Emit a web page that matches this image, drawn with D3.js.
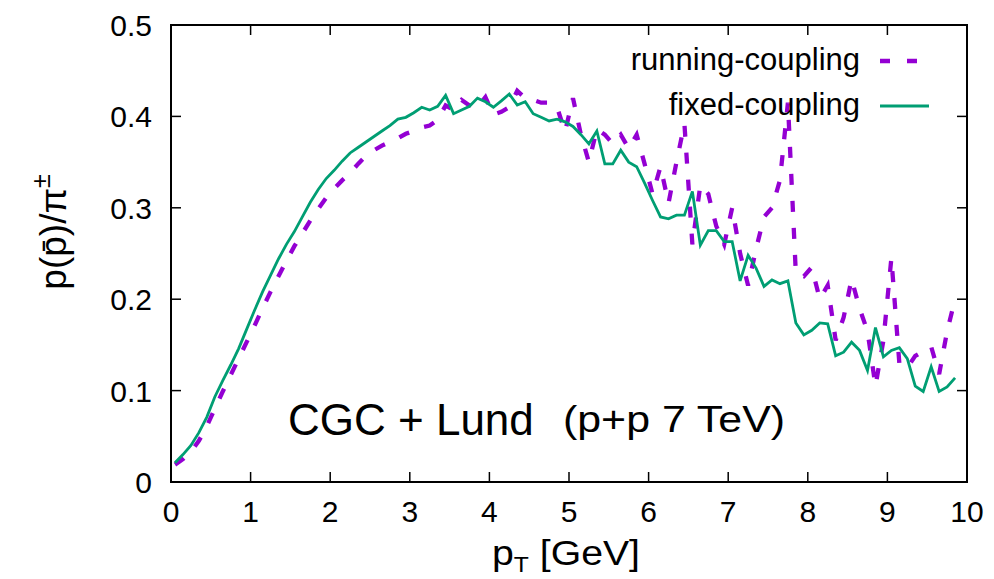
<!DOCTYPE html>
<html>
<head>
<meta charset="utf-8">
<script src="https://cdn.jsdelivr.net/npm/d3@7"></script>
<style>
  html, body { margin: 0; padding: 0; background: #fff; }
  svg text { font-family: "Liberation Sans", Arial, Helvetica, sans-serif; fill: #000; }
</style>
</head>
<body>
<svg id="chart" width="994" height="579"></svg>
<script>
// transverse momentum grid [GeV]
const pT = [0.05,0.15,0.25,0.35,0.45,0.55,0.65,0.75,0.85,0.95,
  1.05,1.15,1.25,1.35,1.45,1.55,1.65,1.75,1.85,1.95,
  2.05,2.15,2.25,2.35,2.45,2.55,2.65,2.75,2.85,2.95,
  3.05,3.15,3.25,3.35,3.45,3.55,3.65,3.75,3.85,3.95,
  4.05,4.15,4.25,4.35,4.45,4.55,4.65,4.75,4.85,4.95,
  5.05,5.15,5.25,5.35,5.45,5.55,5.65,5.75,5.85,5.95,
  6.05,6.15,6.25,6.35,6.45,6.55,6.65,6.75,6.85,6.95,
  7.05,7.15,7.25,7.35,7.45,7.55,7.65,7.75,7.85,7.95,
  8.05,8.15,8.25,8.35,8.45,8.55,8.65,8.75,8.85,8.95,
  9.05,9.15,9.25,9.35,9.45,9.55,9.65,9.75,9.85];

// p(pbar)/pi ratio, running coupling
const runningCoupling = [0.019,0.025,0.033,0.045,0.061,0.080,0.099,0.117,0.135,0.153,
  0.171,0.190,0.208,0.225,0.242,0.258,0.272,0.286,0.299,0.311,
  0.321,0.330,0.338,0.348,0.357,0.363,0.368,0.372,0.376,0.381,
  0.384,0.388,0.390,0.396,0.412,0.407,0.418,0.412,0.410,0.421,
  0.402,0.405,0.410,0.428,0.420,0.418,0.415,0.415,0.410,0.383,
  0.420,0.380,0.350,0.386,0.380,0.370,0.380,0.365,0.380,0.348,
  0.315,0.345,0.305,0.350,0.392,0.260,0.325,0.315,0.280,0.260,
  0.300,0.250,0.215,0.255,0.290,0.300,0.330,0.415,0.228,0.225,
  0.235,0.200,0.215,0.155,0.180,0.222,0.190,0.165,0.105,0.155,
  0.245,0.130,0.125,0.138,0.143,0.148,0.118,0.165,0.200];

// p(pbar)/pi ratio, fixed coupling
const fixedCoupling = [0.021,0.030,0.040,0.054,0.071,0.093,0.111,0.128,0.146,0.167,
  0.188,0.208,0.226,0.244,0.260,0.274,0.290,0.306,0.320,0.332,
  0.341,0.351,0.360,0.366,0.372,0.378,0.384,0.390,0.397,0.399,
  0.404,0.410,0.407,0.411,0.423,0.403,0.407,0.411,0.420,0.416,
  0.410,0.417,0.4245,0.4125,0.416,0.403,0.399,0.395,0.397,0.394,
  0.389,0.380,0.370,0.384,0.348,0.348,0.363,0.350,0.345,0.327,
  0.308,0.290,0.288,0.292,0.292,0.318,0.259,0.275,0.275,0.263,
  0.263,0.220,0.248,0.234,0.214,0.221,0.217,0.220,0.174,0.161,
  0.166,0.174,0.173,0.138,0.142,0.153,0.144,0.122,0.169,0.137,
  0.144,0.147,0.135,0.105,0.099,0.126,0.099,0.104,0.114];

const xTicks = [0,1,2,3,4,5,6,7,8,9,10];
const yTicks = [0,0.1,0.2,0.3,0.4,0.5];
const seriesNames = ["running-coupling", "fixed-coupling"];

const svg = d3.select("#chart");
const plotLeft = 171, plotRight = 967, plotTop = 25, plotBottom = 482;

const x = d3.scaleLinear().domain([0, 10]).range([plotLeft, plotRight]);
const y = d3.scaleLinear().domain([0, 0.5]).range([plotBottom, plotTop]);

const tickLen = 10;
const fontSize = 30;

// tick marks on all four sides, pointing inward
const axisG = svg.append("g").attr("stroke", "#000").attr("stroke-width", 1.5);
xTicks.forEach(t => {
  axisG.append("line").attr("x1", x(t)).attr("x2", x(t)).attr("y1", plotBottom).attr("y2", plotBottom - tickLen);
  axisG.append("line").attr("x1", x(t)).attr("x2", x(t)).attr("y1", plotTop).attr("y2", plotTop + tickLen);
});
yTicks.forEach(t => {
  axisG.append("line").attr("x1", plotLeft).attr("x2", plotLeft + tickLen).attr("y1", y(t)).attr("y2", y(t));
  axisG.append("line").attr("x1", plotRight).attr("x2", plotRight - tickLen).attr("y1", y(t)).attr("y2", y(t));
});

// tick labels
svg.append("g").selectAll("text").data(xTicks).join("text")
  .attr("x", d => x(d)).attr("y", plotBottom + 40)
  .attr("text-anchor", "middle").attr("font-size", fontSize)
  .text(d => d3.format("d")(d));
svg.append("g").selectAll("text").data(yTicks).join("text")
  .attr("x", plotLeft - 19).attr("y", d => y(d) + 11)
  .attr("text-anchor", "end").attr("font-size", fontSize)
  .text(d => d === 0 ? "0" : d3.format(".1f")(d));

// curves
const line = d3.line().x(d => x(d[0])).y(d => y(d[1]));
const runPts = pT.map((p, i) => [p, runningCoupling[i]]);
const fixPts = pT.map((p, i) => [p, fixedCoupling[i]]);

const purple = "#9400d3", green = "#009e73";

svg.append("path").datum(runPts).attr("d", line)
  .attr("fill", "none").attr("stroke", purple).attr("stroke-width", 4.3)
  .attr("stroke-dasharray", "11,16");
svg.append("path").datum(fixPts).attr("d", line)
  .attr("fill", "none").attr("stroke", green).attr("stroke-width", 2.8)
  .attr("stroke-linejoin", "miter");

// frame
svg.append("rect").attr("x", plotLeft).attr("y", plotTop)
  .attr("width", plotRight - plotLeft).attr("height", plotBottom - plotTop)
  .attr("fill", "none").attr("stroke", "#000").attr("stroke-width", 2);

// legend
const legend = [
  { name: seriesNames[0], color: purple, dash: "10,17", width: 4.3, yy: 61 },
  { name: seriesNames[1], color: green, dash: null, width: 2.8, yy: 106 }
];
legend.forEach(l => {
  svg.append("text").attr("x", 860).attr("y", l.yy + 9)
    .attr("text-anchor", "end").attr("font-size", 31).text(l.name);
  const ln = svg.append("line").attr("x1", 880).attr("x2", 929)
    .attr("y1", l.yy).attr("y2", l.yy)
    .attr("stroke", l.color).attr("stroke-width", l.width);
  if (l.dash) ln.attr("stroke-dasharray", l.dash);
});

// annotation
svg.append("text").attr("x", 288).attr("y", 435).attr("font-size", 44).text("CGC + Lund");
svg.append("text").attr("x", 563).attr("y", 432).attr("font-size", 36)
  .attr("textLength", 222).attr("lengthAdjust", "spacingAndGlyphs").text("(p+p 7 TeV)");

// axis titles
const xt = svg.append("text").attr("x", 492).attr("y", 565)
  .attr("font-size", 35)
  .attr("textLength", 148).attr("lengthAdjust", "spacingAndGlyphs");
xt.append("tspan").text("p");
xt.append("tspan").attr("font-size", 22).attr("dy", 7).text("T");
xt.append("tspan").attr("dy", -7).text(" [GeV]");

const yt = svg.append("text")
  .attr("transform", "translate(66,232) rotate(-90)")
  .attr("text-anchor", "middle").attr("font-size", 37);
yt.append("tspan").text("p(p\u0304)/\u03c0");
yt.append("tspan").attr("font-size", 25).attr("dy", -16).text("\u00b1");
</script>
</body>
</html>
